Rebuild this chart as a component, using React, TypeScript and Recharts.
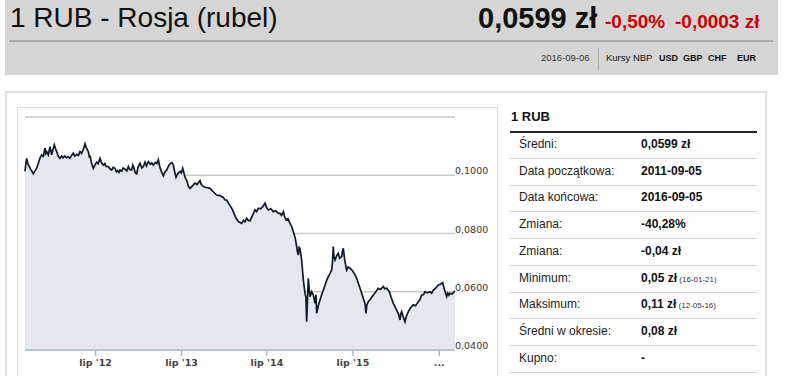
import React from 'react';
import { AreaChart, Area, XAxis, YAxis, CartesianGrid } from 'recharts';

// months since 2011-09-05
const months = [
  0, 0.15, 0.23, 0.4, 0.6, 0.8, 1.0, 1.16, 1.4, 1.63,
  1.9, 2.1, 2.33, 2.55, 2.79, 2.9, 3.02, 3.25, 3.49, 3.6,
  3.72, 3.9, 4.09, 4.25, 4.42, 4.65, 4.88, 5.1, 5.3, 5.55,
  5.81, 6.05, 6.28, 6.5, 6.74, 6.95, 7.21, 7.45, 7.67, 7.9,
  8.14, 8.37, 8.55, 8.84, 9.0, 9.07, 9.3, 9.53, 9.75, 10.0,
  10.2, 10.47, 10.7, 10.93, 11.15, 11.3, 11.63, 11.85, 12.09, 12.3,
  12.56, 12.75, 12.9, 13.1, 13.26, 13.5, 13.7, 13.95, 14.2, 14.42,
  14.6, 14.88, 15.05, 15.2, 15.4, 15.58, 15.8, 16.05, 16.3, 16.51,
  16.75, 16.95, 17.21, 17.5, 17.7, 17.91, 18.2, 18.4, 18.6, 18.8,
  19.0, 19.3, 19.5, 19.77, 20.0, 20.23, 20.5, 20.7, 20.9, 21.07,
  21.3, 21.63, 21.8, 22.0, 22.15, 22.33, 22.6, 22.8, 23.02, 23.3,
  23.72, 24.0, 24.42, 24.6, 24.88, 25.3, 25.81, 26.2, 26.74, 27.2,
  27.67, 27.9, 28.14, 28.5, 28.84, 29.07, 29.4, 29.77, 30.0, 30.23,
  30.5, 30.7, 30.93, 31.15, 31.4, 31.7, 32.09, 32.3, 32.56, 32.9,
  33.2, 33.49, 33.7, 33.95, 34.3, 34.65, 35.0, 35.3, 35.58, 35.8,
  36.05, 36.2, 36.42, 36.7, 36.98, 37.2, 37.44, 37.7, 37.91, 38.0,
  38.14, 38.25, 38.37, 38.6, 38.84, 39.07, 39.2, 39.3, 39.4, 39.53,
  39.65, 39.77, 40.0, 40.23, 40.47, 40.6, 40.7, 40.9, 41.16, 41.4,
  41.63, 41.9, 42.1, 42.33, 42.6, 42.79, 42.9, 43.02, 43.1, 43.26,
  43.5, 43.72, 43.9, 44.19, 44.3, 44.42, 44.6, 44.88, 45.1, 45.35,
  45.7, 46.05, 46.3, 46.51, 46.75, 46.98, 47.2, 47.44, 47.58, 47.7,
  47.91, 48.2, 48.6, 48.9, 49.3, 49.6, 50.0, 50.2, 50.47, 50.84,
  51.1, 51.4, 51.6, 51.86, 52.1, 52.33, 52.45, 52.56, 52.8, 53.02,
  53.2, 53.49, 53.8, 54.19, 54.5, 54.88, 55.1, 55.35, 55.6, 55.81,
  56.1, 56.51, 56.75, 56.98, 57.3, 57.67, 57.9, 58.28, 58.5, 58.84,
  59.0, 59.15, 59.3, 59.6, 60,
];
const rates = [
  0.1013, 0.1045, 0.1058, 0.104, 0.103, 0.102, 0.1012, 0.1005, 0.1015, 0.1024,
  0.1045, 0.106, 0.107, 0.1065, 0.1093, 0.1075, 0.1081, 0.107, 0.1098, 0.1085,
  0.107, 0.1088, 0.1104, 0.1092, 0.1081, 0.1065, 0.1058, 0.1066, 0.106, 0.1066,
  0.106, 0.1064, 0.1058, 0.1068, 0.1076, 0.1066, 0.1072, 0.1068, 0.1081, 0.1075,
  0.1089, 0.1108, 0.1095, 0.1081, 0.106, 0.1068, 0.104, 0.1024, 0.1035, 0.1045,
  0.104, 0.1058, 0.1042, 0.1035, 0.104, 0.103, 0.103, 0.1022, 0.1018, 0.1027,
  0.1024, 0.1012, 0.1016, 0.101, 0.1018, 0.1014, 0.1025, 0.1021, 0.1015, 0.103,
  0.102, 0.1018, 0.1035, 0.1025, 0.1008, 0.1005, 0.103, 0.1041, 0.1025, 0.103,
  0.1045, 0.1032, 0.1047, 0.1038, 0.1042, 0.1035, 0.1044, 0.104, 0.1053, 0.103,
  0.1015, 0.0998, 0.101, 0.1018, 0.103, 0.1039, 0.1044, 0.1035, 0.101, 0.0993,
  0.1005, 0.1013, 0.1008, 0.1024, 0.101, 0.0993, 0.098, 0.0962, 0.0955, 0.0962,
  0.0973, 0.0968, 0.0982, 0.0968, 0.0961, 0.0958, 0.0955, 0.0945, 0.0932, 0.093,
  0.0924, 0.0915, 0.0915, 0.09, 0.0887, 0.0875, 0.0855, 0.0841, 0.0838, 0.0835,
  0.0845, 0.084, 0.0852, 0.0845, 0.0844, 0.086, 0.0881, 0.0875, 0.0887, 0.0885,
  0.0893, 0.0904, 0.089, 0.0881, 0.0885, 0.0875, 0.0878, 0.087, 0.0869, 0.0862,
  0.0875, 0.086, 0.0847, 0.085, 0.0835, 0.0825, 0.0806, 0.0785, 0.0755, 0.074,
  0.0726, 0.0752, 0.0749, 0.0709, 0.064, 0.0595, 0.058, 0.0497, 0.056, 0.0646,
  0.061, 0.0583, 0.06, 0.0589, 0.056, 0.059, 0.0526, 0.055, 0.0572, 0.059,
  0.0606, 0.0625, 0.064, 0.0652, 0.0665, 0.0675, 0.07, 0.0755, 0.072, 0.0709,
  0.0725, 0.0732, 0.0715, 0.0721, 0.074, 0.0749, 0.071, 0.0675, 0.0685, 0.0681,
  0.0672, 0.0658, 0.0645, 0.0629, 0.0612, 0.0595, 0.0578, 0.056, 0.0526, 0.0555,
  0.0566, 0.0575, 0.0589, 0.0598, 0.0612, 0.0608, 0.0618, 0.061, 0.0612, 0.06,
  0.058, 0.056, 0.055, 0.0537, 0.0525, 0.0503, 0.0525, 0.0532, 0.0512, 0.0497,
  0.0515, 0.0532, 0.0545, 0.0555, 0.0552, 0.0566, 0.0572, 0.0589, 0.059, 0.06,
  0.0596, 0.06, 0.0595, 0.0606, 0.0612, 0.0623, 0.0625, 0.0631, 0.061, 0.0583,
  0.0595, 0.0588, 0.0595, 0.0592, 0.0603,
];
const xTicks = [9.85, 21.85, 33.75, 45.75, 57.8];
const xTickLabels = ["lip '12", "lip '13", "lip '14", "lip '15", '...'];
const yTicks = [0.04, 0.06, 0.08, 0.1, 0.12];
const yTickLabels = ['0,0400', '0,0600', '0,0800', '0,1000', ''];

const tableLabels = ['Średni:', 'Data początkowa:', 'Data końcowa:', 'Zmiana:', 'Zmiana:', 'Minimum:', 'Maksimum:', 'Średni w okresie:', 'Kupno:'];
const tableValues = ['0,0599 zł', '2011-09-05', '2016-09-05', '-40,28%', '-0,04 zł', '0,05 zł', '0,11 zł', '0,08 zł', '-'];
const tableNotes = ['', '', '', '', '', '(16-01-21)', '(12-05-16)', '', ''];

const data = months.map((m, i) => ({ m, v: rates[i] }));

const YTick = (props: any) => {
  const { x, y, payload } = props;
  const idx = yTicks.indexOf(payload.value);
  return (
    <text x={x - 8} y={y - 1} fontSize={9.5} fill="#333" fontFamily="DejaVu Sans, sans-serif">
      {yTickLabels[idx]}
    </text>
  );
};

const XTick = (props: any) => {
  const { x, y, payload } = props;
  const idx = xTicks.indexOf(payload.value);
  return (
    <text x={x} y={y + 8} fontSize={9.5} fontWeight="bold" fill="#444" textAnchor="middle" fontFamily="DejaVu Sans, sans-serif">
      {xTickLabels[idx]}
    </text>
  );
};

const abs = (l: number, t: number, extra: any = {}): React.CSSProperties => ({
  position: 'absolute',
  left: l,
  top: t,
  whiteSpace: 'nowrap',
  ...extra,
});

export default function App() {
  const font = 'Liberation Sans, Arial, sans-serif';
  return (
    <div style={{ position: 'absolute', left: 0, top: 0, width: 786, height: 376, background: '#fff', overflow: 'hidden', fontFamily: font }}>
      {/* header */}
      <div style={abs(5, 0, { width: 773, height: 75, background: '#d5d5d5' })} />
      <div style={abs(9, 40, { width: 764, height: 2, background: '#a8a8a8' })} />
      <div style={abs(10, 1, { fontSize: 28, lineHeight: '34px', color: '#111' })}>1 RUB - Rosja (rubel)</div>
      <div style={abs(478, 0, { fontSize: 29, lineHeight: '36px', fontWeight: 'bold', color: '#111' })}>0,0599 zł</div>
      <div style={abs(605, 10, { fontSize: 19, lineHeight: '24px', fontWeight: 'bold', color: '#cc0000' })}>-0,50%</div>
      <div style={abs(675, 10, { fontSize: 19, lineHeight: '24px', fontWeight: 'bold', color: '#cc0000' })}>-0,0003 zł</div>
      <div style={abs(541, 52, { fontSize: 9.5, lineHeight: '12px', color: '#333' })}>2016-09-06</div>
      <div style={abs(598, 48, { width: 1, height: 22, background: '#aaa' })} />
      <div style={abs(606, 52, { fontSize: 9.5, lineHeight: '12px', color: '#111' })}>Kursy NBP</div>
      <div style={abs(659, 52, { fontSize: 9, lineHeight: '12px', color: '#111', fontWeight: 'bold' })}>USD</div>
      <div style={abs(683, 52, { fontSize: 9, lineHeight: '12px', color: '#111', fontWeight: 'bold' })}>GBP</div>
      <div style={abs(708, 52, { fontSize: 9, lineHeight: '12px', color: '#111', fontWeight: 'bold' })}>CHF</div>
      <div style={abs(737, 52, { fontSize: 9, lineHeight: '12px', color: '#111', fontWeight: 'bold' })}>EUR</div>

      {/* outer panel */}
      <div style={abs(5, 91, { width: 762, height: 300, border: '2px solid #e0e0e0', boxSizing: 'border-box' })} />
      {/* chart box */}
      <div style={abs(17, 107, { width: 481, height: 290, border: '1px solid #dcdcdc', boxSizing: 'border-box' })} />

      <div style={abs(17, 108)}>
        <AreaChart width={481} height={268} data={data} margin={{ top: 9, right: 0, bottom: 0, left: 8 }}>
          <CartesianGrid horizontal vertical={false} stroke="#c9c9c9" strokeWidth={1.5} />
          <XAxis
            dataKey="m"
            type="number"
            domain={[0, 60]}
            ticks={xTicks}
            tick={<XTick />}
            height={26}
            stroke="#a9b8d2"
            strokeWidth={1.5}
            tickSize={6}
            interval={0}
          />
          <YAxis
            orientation="right"
            domain={[0.04, 0.12]}
            ticks={yTicks}
            tick={<YTick />}
            width={43}
            axisLine={false}
            tickLine={false}
            interval={0}
          />
          <Area
            type="linear"
            dataKey="v"
            stroke="#111827"
            strokeWidth={1.7}
            fill="#e4e7ee"
            fillOpacity={1}
            isAnimationActive={false}
            dot={false}
            activeDot={false}
          />
        </AreaChart>
      </div>

      {/* right table */}
      <div style={abs(511, 108, { fontSize: 13, lineHeight: '18px', fontWeight: 'bold', color: '#111' })}>1 RUB</div>
      <div style={abs(510, 131, { width: 247, height: 1.5, background: '#222' })} />
      {tableLabels.map((lab, i) => (
        <React.Fragment key={i}>
          <div style={abs(519, 136 + i * 26.7, { fontSize: 12, lineHeight: '16px', color: '#222' })}>{lab}</div>
          <div style={abs(641, 136 + i * 26.7, { fontSize: 12, lineHeight: '16px', color: '#111', fontWeight: 'bold' })}>
            {tableValues[i]}
            {tableNotes[i] ? <span style={{ fontSize: 8, fontWeight: 'normal', color: '#333' }}> {tableNotes[i]}</span> : null}
          </div>
          <div style={abs(510, 158 + i * 26.7, { width: 247, height: 1, background: '#d0d0d0' })} />
        </React.Fragment>
      ))}
    </div>
  );
}
